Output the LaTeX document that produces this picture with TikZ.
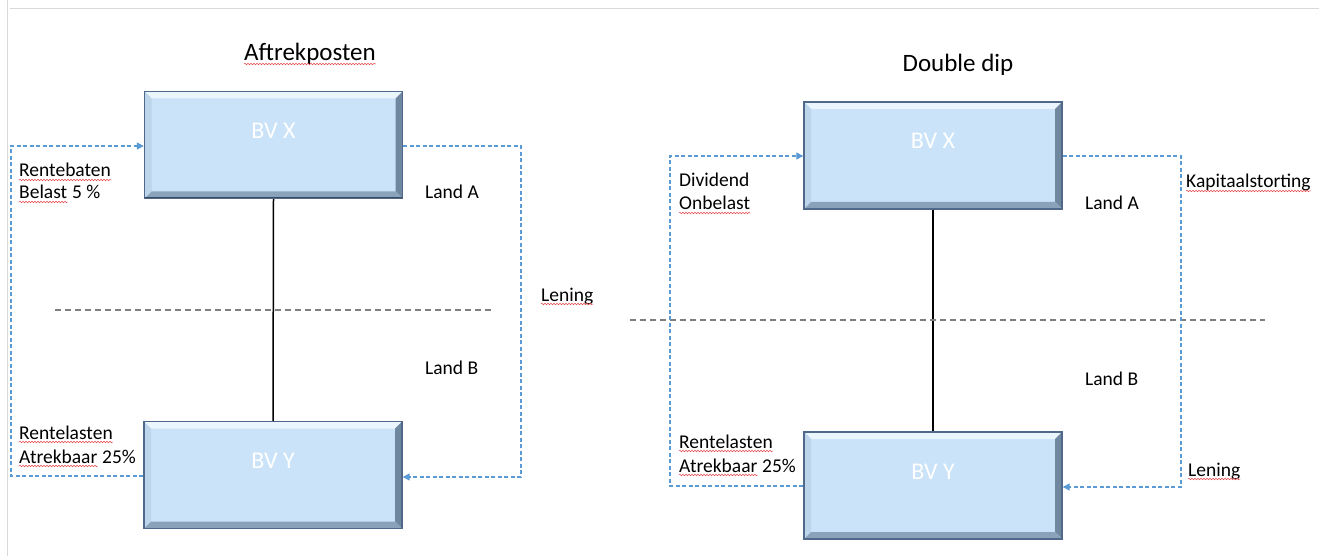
\documentclass[tikz,border=0pt]{standalone}
\usepackage{fontspec}
\setmainfont{Carlito}
\usetikzlibrary{arrows.meta,decorations.pathmorphing}

\definecolor{boxfill}{HTML}{CAE3F9}
\definecolor{boxedge}{HTML}{50698A}
\definecolor{bevtop}{HTML}{EAF5FE}
\definecolor{bevleft}{HTML}{BCD5EB}
\definecolor{bevright}{HTML}{6F879F}
\definecolor{bevbottom}{HTML}{8AA3BB}
\definecolor{flowblue}{HTML}{5B9BD5}
\definecolor{sepgray}{HTML}{7F7F7F}
\definecolor{framegray}{HTML}{D9D9D9}
\definecolor{spellred}{HTML}{E8474C}

\tikzset{
  bevelbox/.style={draw=boxedge, line width=1.4pt, fill=boxfill,
    minimum width=258pt, minimum height=107pt, inner sep=0pt,
    path picture={
      \coordinate (pnw) at (path picture bounding box.north west);
      \coordinate (pne) at (path picture bounding box.north east);
      \coordinate (psw) at (path picture bounding box.south west);
      \coordinate (pse) at (path picture bounding box.south east);
      \fill[bevtop] (pnw) -- (pne) -- ([xshift=-7pt,yshift=-7pt]pne) -- ([xshift=7pt,yshift=-7pt]pnw) -- cycle;
      \fill[bevleft] (pnw) -- ([xshift=7pt,yshift=-7pt]pnw) -- ([xshift=7pt,yshift=7pt]psw) -- (psw) -- cycle;
      \fill[bevright] (pne) -- ([xshift=-7pt,yshift=-7pt]pne) -- ([xshift=-7pt,yshift=7pt]pse) -- (pse) -- cycle;
      \fill[bevbottom] (psw) -- ([xshift=7pt,yshift=7pt]psw) -- ([xshift=-7pt,yshift=7pt]pse) -- (pse) -- cycle;
      \draw[boxedge!70!black, line width=2pt] (pne) -- (pse) -- (psw);
    }},
  boxtext/.style={text=white, font=\fontsize{24}{28}\selectfont, inner sep=0pt},
  title/.style={font=\fontsize{25}{30}\selectfont, inner sep=0pt, anchor=base},
  lbl/.style={font=\fontsize{19.5}{23}\selectfont, inner sep=0pt, anchor=base west},
  flow/.style={draw=flowblue, line width=1.3pt, dash pattern=on 4pt off 2.5pt},
  flowarrow/.style={flow, -{Triangle[length=7pt,width=7pt]}},
  separator/.style={draw=sepgray, line width=1.2pt, dash pattern=on 6pt off 4pt},
  tie/.style={draw=black, line width=1.5pt},
  spell/.style={draw=spellred, line width=0.5pt,
    decorate, decoration={snake, amplitude=0.8pt, segment length=3pt}},
}

% red wavy underline below a word node
\newcommand{\wavy}[1]{\draw[spell] ([yshift=-3pt]#1.base west) -- ([yshift=-3pt]#1.base east);}

\begin{document}
\begin{tikzpicture}[x=1pt,y=-1pt]
\useasboundingbox (0,0) rectangle (1319,556);
\fill[white] (0,0) rectangle (1319,556);

% page frame
\draw[framegray, line width=1pt] (7,0) -- (7,556);
\draw[framegray, line width=1pt] (10,9) -- (1319,9);

% ---------------- Aftrekposten ----------------
\node[title] (t1) at (310,61) {Aftrekposten};
\wavy{t1}

\node[bevelbox] (ax) at (273.5,145) {};
\node[boxtext] (axt) at (273.5,131) {BV X};
\node[bevelbox] (ay) at (273,475) {};
\node[boxtext] (ayt) at (273,461) {BV Y};

\draw[tie] (ax.south) -- (ay.north);

\coordinate (as1) at (55,310);
\coordinate (as2) at (492,310);
\draw[separator] (as1) -- (as2);

\coordinate (al1) at (11,146);
\coordinate (al2) at (11,476);
\coordinate (ar1) at (521,146);
\coordinate (ar2) at (521,477);
\draw[flowarrow] (ay.west |- al2) -- (al2) -- (al1) -- (ax.west |- al1);
\draw[flowarrow] (ax.east |- ar1) -- (ar1) -- (ar2) -- (ay.east |- ar2);

\node[lbl] (a1) at (19,177) {Rentebaten};
\node[lbl] (a2) at (19,199) {Belast};
\node[lbl, anchor=base west] (a2b) at (a2.base east) {\ 5 \%};
\node[lbl] (a3) at (19,439) {Rentelasten};
\node[lbl] (a4) at (19,463) {Atrekbaar};
\node[lbl, anchor=base west] (a4b) at (a4.base east) {\ 25\%};
\node[lbl] (a5) at (425,199) {Land A};
\node[lbl] (a6) at (425,374) {Land B};
\node[lbl] (a7) at (541,301) {Lening};
\wavy{a1} \wavy{a2} \wavy{a3} \wavy{a4} \wavy{a7}

% ---------------- Double dip ----------------
\node[title] (t2) at (958,72) {Double dip};

\node[bevelbox] (bx) at (933,155.5) {};
\node[boxtext] (bxt) at (933,141) {BV X};
\node[bevelbox] (by) at (933,485.5) {};
\node[boxtext] (byt) at (933,472) {BV Y};

\draw[tie] (bx.south) -- (by.north);

\coordinate (bs1) at (630,320);
\coordinate (bs2) at (1265,320);
\draw[separator] (bs1) -- (bs2);

\coordinate (bl1) at (670,156);
\coordinate (bl2) at (670,486);
\coordinate (br1) at (1181,156);
\coordinate (br2) at (1181,487);
\draw[flowarrow] (by.west |- bl2) -- (bl2) -- (bl1) -- (bx.west |- bl1);
\draw[flowarrow] (bx.east |- br1) -- (br1) -- (br2) -- (by.east |- br2);

\node[lbl] (b1) at (679,187) {Dividend};
\node[lbl] (b2) at (679,210) {Onbelast};
\node[lbl] (b3) at (679,448) {Rentelasten};
\node[lbl] (b4) at (679,472) {Atrekbaar};
\node[lbl, anchor=base west] (b4b) at (b4.base east) {\ 25\%};
\node[lbl] (b5) at (1085,209) {Land A};
\node[lbl] (b6) at (1085,385) {Land B};
\node[lbl] (b7) at (1186,188) {Kapitaalstorting};
\node[lbl] (b8) at (1188,476) {Lening};
\wavy{b2} \wavy{b3} \wavy{b4} \wavy{b7} \wavy{b8}
\end{tikzpicture}
\end{document}
